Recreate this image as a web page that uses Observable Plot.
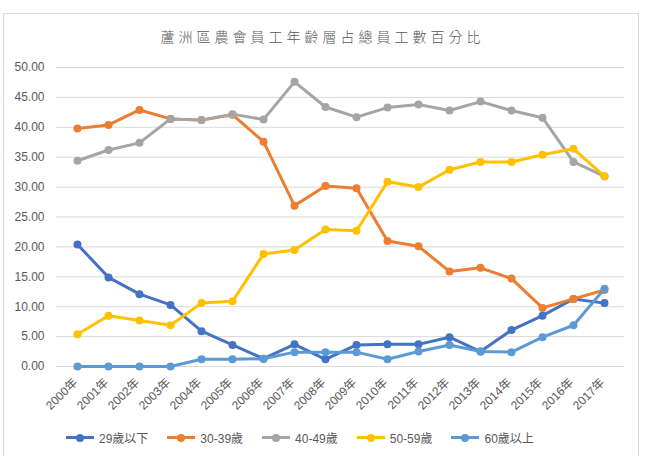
<!DOCTYPE html>
<html>
<head>
<meta charset="utf-8">
<script src="https://cdn.jsdelivr.net/npm/d3@7"></script>
<script src="https://cdn.jsdelivr.net/npm/@observablehq/plot@0.6"></script>
<style>
  body { margin: 0; background: #fff; }
  #wrap { position: relative; width: 655px; height: 456px; overflow: hidden; font-family: "Liberation Sans", "Noto Sans CJK TC", sans-serif; }
  #frame { position: absolute; left: 3px; top: 13px; width: 636px; height: 460px; border: 1px solid #d9d9d9; box-sizing: border-box; }
  #title { position: absolute; top: 26px; left: 0; width: 645px; text-align: center; font-family: "Noto Sans CJK TC", sans-serif; font-weight: 300; font-size: 14px; letter-spacing: 4px; color: #595959; }
  #chart { position: absolute; left: 0; top: 55px; }
  #legend { position: absolute; top: 429px; left: 66px; display: flex; gap: 19px; font-size: 12px; color: #595959; font-family: "Liberation Sans", "Noto Sans CJK TC", sans-serif; }
  .item { display: flex; align-items: center; gap: 5px; }
  .sw { position: relative; width: 28px; height: 16px; }
  .sw .ln { position: absolute; left: 0; top: 6.5px; width: 28px; height: 3px; }
  .sw .dt { position: absolute; left: 10px; top: 4px; width: 8px; height: 8px; border-radius: 50%; }
</style>
</head>
<body>
<div id="wrap">
  <div id="frame"></div>
  <div id="title">蘆洲區農會員工年齡層占總員工數百分比</div>
  <div id="chart"></div>
  <div id="legend"></div>
</div>
<script>
const years = ["2000年","2001年","2002年","2003年","2004年","2005年","2006年","2007年","2008年","2009年","2010年","2011年","2012年","2013年","2014年","2015年","2016年","2017年"];
const seriesNames = ["29歲以下","30-39歲","40-49歲","50-59歲","60歲以上"];
const seriesColors = ["#4472C4","#ED7D31","#A5A5A5","#FFC000","#5B9BD5"];
const age29 = [20.4,14.9,12.1,10.3,5.9,3.6,1.3,3.7,1.2,3.6,3.7,3.7,4.9,2.5,6.1,8.5,11.3,10.6];
const age30 = [39.8,40.4,42.9,41.4,41.2,42.1,37.6,26.9,30.2,29.8,21.0,20.1,15.9,16.5,14.7,9.8,11.3,12.8];
const age40 = [34.4,36.2,37.4,41.4,41.2,42.2,41.3,47.6,43.4,41.7,43.3,43.8,42.8,44.3,42.8,41.6,34.2,31.8];
const age50 = [5.4,8.5,7.7,6.9,10.6,10.9,18.8,19.5,22.9,22.7,30.9,30.0,32.9,34.2,34.2,35.4,36.4,31.8];
const age60 = [0,0,0,0,1.2,1.2,1.3,2.4,2.4,2.4,1.2,2.5,3.6,2.5,2.4,4.9,6.9,13.0];
const yTicks = [0,5,10,15,20,25,30,35,40,45,50];

const allSeries = [age29, age30, age40, age50, age60];
const data = [];
allSeries.forEach((vals, si) => {
  vals.forEach((v, i) => data.push({year: years[i], value: v, series: seriesNames[si]}));
});

const marks = [
  Plot.gridY(yTicks, {stroke: "#d9d9d9", strokeOpacity: 1}),
  Plot.axisY(yTicks, {tickSize: 0, tickPadding: 12, tickFormat: d => d.toFixed(2), fontSize: 12, fill: "#595959"}),
  Plot.axisX({tickSize: 0, tickPadding: 14, dx: -2, tickRotate: -45, fontSize: 12, fill: "#595959"})
];
seriesNames.forEach(name => {
  const d = data.filter(r => r.series === name);
  marks.push(Plot.line(d, {x: "year", y: "value", stroke: "series", strokeWidth: 3}));
  marks.push(Plot.dot(d, {x: "year", y: "value", fill: "series", r: 4}));
});

const chart = Plot.plot({
  width: 655,
  height: 372,
  marginTop: 12,
  marginBottom: 61,
  marginLeft: 56,
  marginRight: 31,
  style: {fontFamily: '"Liberation Sans", "Noto Sans CJK TC", sans-serif', fontSize: "12px", color: "#595959", background: "transparent"},
  x: {type: "point", domain: years, padding: 0.5, label: null},
  y: {domain: [0, 50], label: null},
  color: {domain: seriesNames, range: seriesColors},
  marks
});
document.getElementById("chart").appendChild(chart);

const legend = document.getElementById("legend");
seriesNames.forEach((name, i) => {
  const item = document.createElement("div");
  item.className = "item";
  item.innerHTML = `<div class="sw"><div class="ln" style="background:${seriesColors[i]}"></div><div class="dt" style="background:${seriesColors[i]}"></div></div><span>${name}</span>`;
  legend.appendChild(item);
});
</script>
</body>
</html>
